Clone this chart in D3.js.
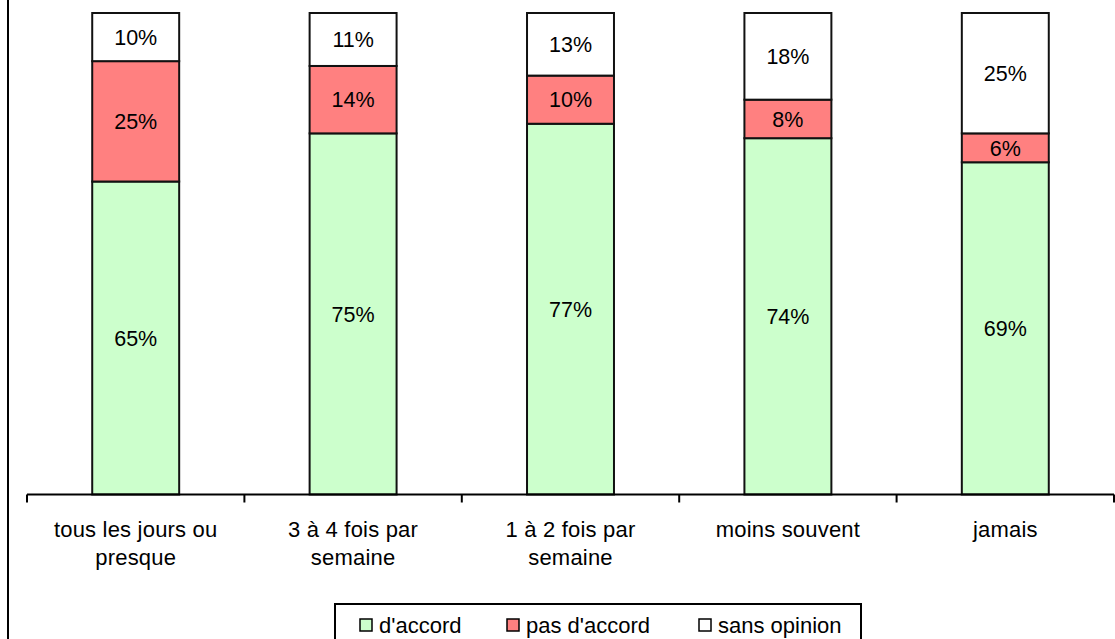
<!DOCTYPE html>
<html>
<head>
<meta charset="utf-8">
<script src="https://cdn.jsdelivr.net/npm/d3@7"></script>
<style>
  body { margin: 0; background: #fff; }
  svg text { font-family: "Liberation Sans", Arial, sans-serif; fill: #000; }
</style>
</head>
<body>
<div id="chart"></div>
<script>
// categories and values (percent)
var categories = ["tous les jours ou presque", "3 à 4 fois par semaine", "1 à 2 fois par semaine", "moins souvent", "jamais"];
var tickLabels = [["tous les jours ou", "presque"], ["3 à 4 fois par", "semaine"], ["1 à 2 fois par", "semaine"], ["moins souvent"], ["jamais"]];
var seriesNames = ["d'accord", "pas d'accord", "sans opinion"];
var accord = [65, 75, 77, 74, 69];
var pasAccord = [25, 14, 10, 8, 6];
var sansOpinion = [10, 11, 13, 18, 25];
var colors = ["#ccffcc", "#ff8080", "#ffffff"];

var width = 1115,
  height = 639;

var svg = d3.select("#chart").append("svg")
  .attr("width", width)
  .attr("height", height);

var rows = categories.map(function (c, i) {
  return { cat: c, "d'accord": accord[i], "pas d'accord": pasAccord[i], "sans opinion": sansOpinion[i] };
});

var stack = d3.stack().keys(seriesNames)(rows);

var xScale = d3.scaleBand().domain(categories).range([27, 1114]).paddingInner(0.6).paddingOuter(0.3);
var yScale = d3.scaleLinear().domain([0, 100]).range([494.5, 13]);

// left frame line
svg.append("line")
  .attr("x1", 8).attr("x2", 8).attr("y1", 0).attr("y2", height)
  .attr("stroke", "#000").attr("stroke-width", 2);

var layers = svg.selectAll("g.layer")
  .data(stack)
  .enter()
  .append("g")
  .attr("class", "layer")
  .attr("fill", function (d, i) { return colors[i]; });

layers.selectAll("rect")
  .data(function (d) { return d; })
  .enter()
  .append("rect")
  .attr("x", function (d) { return xScale(d.data.cat); })
  .attr("y", function (d) { return yScale(d[1]); })
  .attr("width", xScale.bandwidth())
  .attr("height", function (d) { return yScale(d[0]) - yScale(d[1]); })
  .attr("stroke", "#111")
  .attr("stroke-width", 2);

layers.selectAll("text")
  .data(function (d) { return d; })
  .enter()
  .append("text")
  .attr("x", function (d) { return xScale(d.data.cat) + xScale.bandwidth() / 2; })
  .attr("y", function (d) { return (yScale(d[0]) + yScale(d[1])) / 2; })
  .attr("dy", "0.36em")
  .attr("text-anchor", "middle")
  .style("font-size", "21.5px")
  .text(function (d) { return (d[1] - d[0]) + "%"; });

// x axis with ticks between categories
var xAxis = d3.axisBottom(xScale).tickSize(0).tickFormat("");
var axisG = svg.append("g")
  .attr("transform", "translate(0,494.5)")
  .call(xAxis);
axisG.select(".domain").attr("stroke", "#000").attr("stroke-width", 2).attr("d", "M27,0H1114");

var step = xScale.step();
var bounds = d3.range(categories.length + 1).map(function (i) { return 27 + i * step; });
axisG.selectAll("line.sep")
  .data(bounds)
  .enter()
  .append("line")
  .attr("class", "sep")
  .attr("x1", function (d) { return d; })
  .attr("x2", function (d) { return d; })
  .attr("y1", 0)
  .attr("y2", 8)
  .attr("stroke", "#000")
  .attr("stroke-width", 2);

var labels = svg.selectAll("text.cat")
  .data(categories)
  .enter()
  .append("text")
  .attr("class", "cat")
  .attr("text-anchor", "middle")
  .style("font-size", "22px")
  .style("letter-spacing", "0.2px")
  .attr("x", function (d) { return xScale(d) + xScale.bandwidth() / 2; })
  .attr("y", 537);

labels.selectAll("tspan")
  .data(function (d, i) { return tickLabels[i]; })
  .enter()
  .append("tspan")
  .attr("x", function () { return d3.select(this.parentNode).attr("x"); })
  .attr("dy", function (d, i) { return i === 0 ? 0 : 28; })
  .text(function (d) { return d; });

// legend
var legend = svg.append("g");
legend.append("rect")
  .attr("x", 335).attr("y", 604)
  .attr("width", 526).attr("height", 50)
  .attr("fill", "#fff").attr("stroke", "#000").attr("stroke-width", 2);

var legendX = [360, 507, 699];
var items = legend.selectAll("g.item")
  .data(seriesNames)
  .enter()
  .append("g")
  .attr("class", "item")
  .attr("transform", function (d, i) { return "translate(" + legendX[i] + ",619)"; });

items.append("rect")
  .attr("width", 12).attr("height", 12)
  .attr("fill", function (d, i) { return colors[i]; })
  .attr("stroke", "#000").attr("stroke-width", 1.5);

items.append("text")
  .attr("x", 19)
  .attr("y", 6)
  .attr("dy", "0.36em")
  .style("font-size", "22px")
  .text(function (d) { return d; });
</script>
</body>
</html>
